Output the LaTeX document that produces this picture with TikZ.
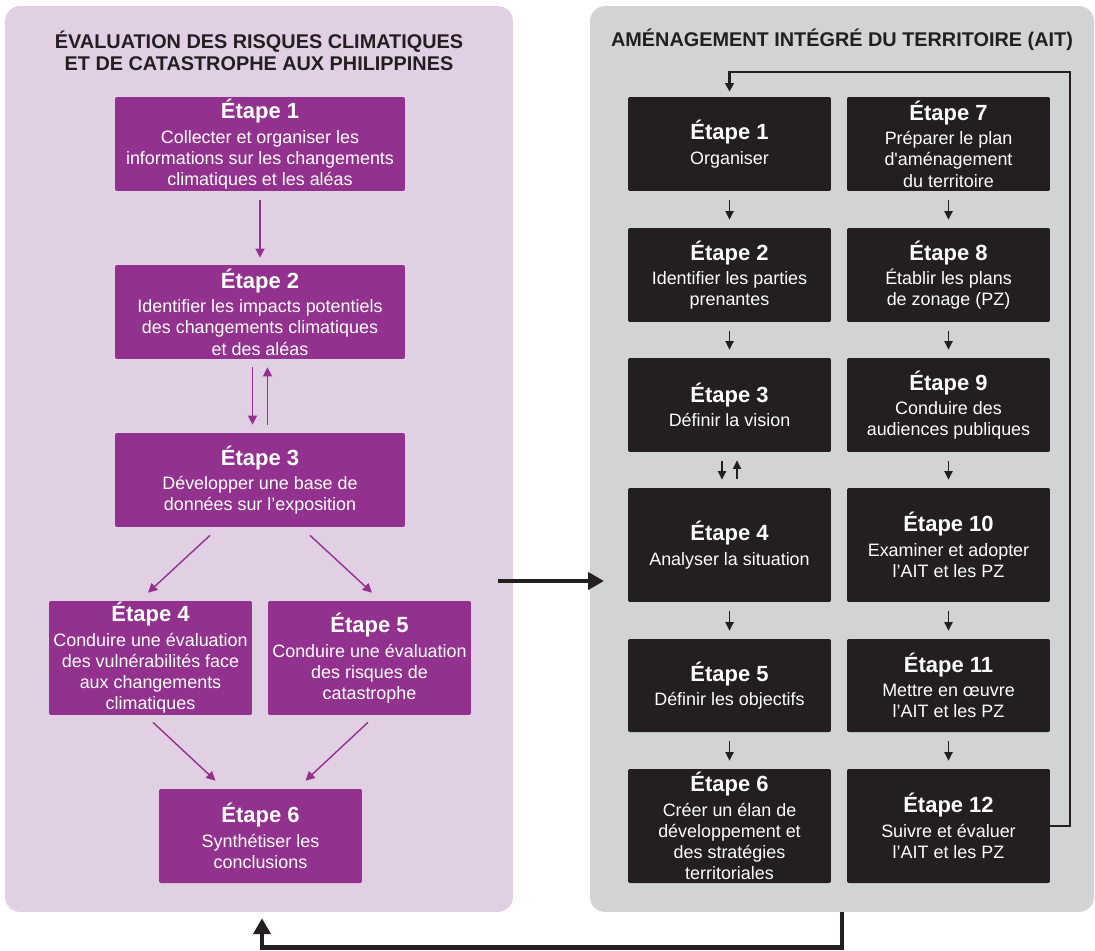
\documentclass[tikz,border=0pt]{standalone}
\usepackage{fontspec}
\setmainfont{Liberation Sans}
\usetikzlibrary{arrows.meta}

\definecolor{violetetape}{HTML}{93328E}
\definecolor{mauvefond}{HTML}{E1CFE4}
\definecolor{grisfond}{HTML}{D1D3D4}
\definecolor{noiretape}{HTML}{231F20}

\newcommand{\etape}[2]{{\fontsize{12.5}{14}\selectfont\bfseries Étape #1}\\[2pt]#2}

\tikzset{
	panneau/.style={rectangle, rounded corners=0.3cm, minimum width=#1, minimum height=18.12cm, inner sep=0pt},
	titre/.style={font=\fontsize{11.3}{12.5}\selectfont\bfseries, text=noiretape, align=center},
	boxviolet/.style={rectangle, fill=violetetape, rounded corners=0.04cm, text=white, align=center,
		inner sep=0pt, minimum width=5.8cm, minimum height=1.88cm, font=\fontsize{10.2}{12}\selectfont},
	boxnoir/.style={rectangle, fill=noiretape, rounded corners=0.04cm, text=white, align=center,
		inner sep=0pt, minimum width=4.06cm, minimum height=1.88cm, font=\fontsize{10.2}{12}\selectfont},
	flecheviolet/.style={draw=violetetape, line width=0.8pt, -{Triangle[length=5.2pt, width=5.2pt]}},
	flechenoire/.style={draw=noiretape, line width=0.9pt, -{Triangle[length=4.8pt, width=4.6pt]},
		shorten <=0.18cm, shorten >=0.16cm},
	grosfleche/.style={draw=noiretape, line width=2.8pt, -{Triangle[length=9pt, width=9.6pt]}}
}

\begin{document}
\begin{tikzpicture}[x=0.02cm, y=-0.02cm]
	\useasboundingbox (0,0) rectangle (1095,950);

	% Panels
	\node[panneau=10.16cm, fill=mauvefond] (evaluation) at (259,459) {};
	\node[panneau=10.08cm, fill=grisfond] (amenagement) at (842,459) {};
	\node[titre] (titregauche) at (259,51) {ÉVALUATION DES RISQUES CLIMATIQUES\\ET DE CATASTROPHE AUX PHILIPPINES};
	\node[titre] (titredroite) at (842,40) {AMÉNAGEMENT INTÉGRÉ DU TERRITOIRE (AIT)};

	% Left panel: risk assessment steps
	\node[boxviolet] (L1) at (260,144) {\etape{1}{Collecter et organiser les\\informations sur les changements\\climatiques et les aléas}};
	\node[boxviolet] (L2) at (260,312) {\etape{2}{Identifier les impacts potentiels\\des changements climatiques\\et des aléas}};
	\node[boxviolet] (L3) at (260,480) {\etape{3}{Développer une base de\\données sur l’exposition}};
	\node[boxviolet, minimum width=4.06cm, minimum height=2.28cm] (L4) at (150.5,658) {\etape{4}{Conduire une évaluation\\des vulnérabilités face\\aux changements\\climatiques}};
	\node[boxviolet, minimum width=4.06cm, minimum height=2.28cm] (L5) at (369.5,658) {\etape{5}{Conduire une évaluation\\des risques de\\catastrophe}};
	\node[boxviolet, minimum width=4.06cm] (L6) at (260.5,836) {\etape{6}{Synthétiser les\\conclusions}};

	\draw[flecheviolet, shorten <=0.18cm, shorten >=0.14cm] (L1) -- (L2);
	\draw[flecheviolet, shorten <=0.16cm, shorten >=0.16cm] ([xshift=-0.15cm]L2.south) -- ([xshift=-0.15cm]L3.north);
	\draw[flecheviolet, shorten <=0.16cm, shorten >=0.16cm] ([xshift=0.15cm]L3.north) -- ([xshift=0.15cm]L2.south);
	\draw[flecheviolet] ([xshift=-1cm, yshift=-0.16cm]L3.south) -- ([xshift=-0.05cm, yshift=0.16cm]L4.north);
	\draw[flecheviolet] ([xshift=1cm, yshift=-0.16cm]L3.south) -- ([xshift=0.05cm, yshift=0.16cm]L5.north);
	\draw[flecheviolet] ([xshift=0.05cm, yshift=-0.14cm]L4.south) -- ([xshift=-0.9cm, yshift=0.16cm]L6.north);
	\draw[flecheviolet] ([xshift=-0.03cm, yshift=-0.14cm]L5.south) -- ([xshift=0.9cm, yshift=0.16cm]L6.north);

	% Right panel, column 1
	\node[boxnoir] (r1) at (729.5,144) {\etape{1}{Organiser}};
	\node[boxnoir] (r2) at (729.5,275) {\etape{2}{Identifier les parties\\prenantes}};
	\node[boxnoir] (r3) at (729.5,405) {\etape{3}{Définir la vision}};
	\node[boxnoir, minimum height=2.28cm] (r4) at (729.5,545) {\etape{4}{Analyser la situation}};
	\node[boxnoir, minimum height=1.86cm] (r5) at (729.5,685.5) {\etape{5}{Définir les objectifs}};
	\node[boxnoir, minimum height=2.28cm] (r6) at (729.5,826) {\etape{6}{Créer un élan de\\développement et\\des stratégies\\territoriales}};

	% Right panel, column 2
	\node[boxnoir] (r7) at (948.5,144) {\etape{7}{Préparer le plan\\d\textquotesingle aménagement\\du territoire}};
	\node[boxnoir] (r8) at (948.5,275) {\etape{8}{Établir les plans\\de zonage (PZ)}};
	\node[boxnoir] (r9) at (948.5,405) {\etape{9}{Conduire des\\audiences publiques}};
	\node[boxnoir, minimum height=2.28cm] (r10) at (948.5,545) {\etape{10}{Examiner et adopter\\l’AIT et les PZ}};
	\node[boxnoir, minimum height=1.86cm] (r11) at (948.5,685.5) {\etape{11}{Mettre en œuvre\\l’AIT et les PZ}};
	\node[boxnoir, minimum height=2.28cm] (r12) at (948.5,826) {\etape{12}{Suivre et évaluer\\l’AIT et les PZ}};

	\foreach \a/\b in {r1/r2, r2/r3, r4/r5, r5/r6, r7/r8, r8/r9, r9/r10, r10/r11, r11/r12}
		\draw[flechenoire] (\a) -- (\b);
	\draw[flechenoire] ([xshift=-0.15cm]r3.south) -- ([xshift=-0.15cm]r4.north);
	\draw[flechenoire] ([xshift=0.15cm]r4.north) -- ([xshift=0.15cm]r3.south);

	% Loop back from step 12 to step 1
	\coordinate (retour) at (1070,72);
	\draw[draw=noiretape, line width=1.2pt, -{Triangle[length=4.8pt, width=4.8pt]}, shorten >=0.1cm]
		(r12.east) -| (retour) -| (r1.north);

	% Links between the two panels
	\coordinate (depart) at (498,581);
	\coordinate (arrivee) at (604,581);
	\draw[grosfleche] (depart) -- (arrivee);
	\draw[grosfleche, shorten >=0.12cm] (amenagement.south) -- ++(0,35) -| ([xshift=0.06cm]evaluation.south);
\end{tikzpicture}
\end{document}
